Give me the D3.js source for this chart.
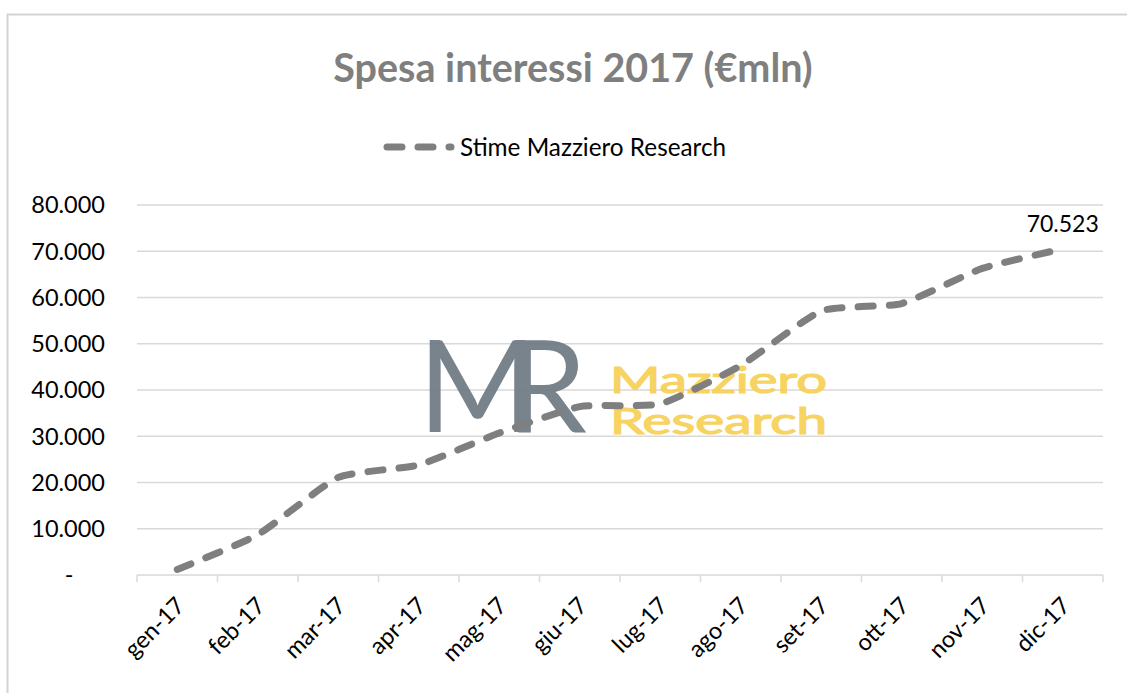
<!DOCTYPE html>
<html lang="it">
<head>
    <meta charset="utf-8">
    <title>Spesa interessi 2017</title>
    <script src="https://d3js.org/d3.v7.min.js"></script>
    <style>
        html, body {
            margin: 0;
            padding: 0;
            background: #fff;
        }
        svg text {
            font-family: Lato, "Open Sans", sans-serif;
        }
    </style>
</head>
<body>
    <div id="chart"></div>

    <script>
        // months on the x axis
        var months = ["gen-17", "feb-17", "mar-17", "apr-17", "mag-17", "giu-17",
                      "lug-17", "ago-17", "set-17", "ott-17", "nov-17", "dic-17"];

        // cumulative interest spending, € million
        var spesa = [1200, 8700, 21100, 23800, 30700, 36400,
                     37000, 45300, 57100, 58700, 66300, 70523];

        var yTicks = [0, 10000, 20000, 30000, 40000, 50000, 60000, 70000, 80000];

        var seriesName = "Stime Mazziero Research";
        var chartTitle = "Spesa interessi 2017 (€mln)";

        var width = 1127, height = 693;

        var svg = d3.select("#chart").append("svg")
            .attr("width", width)
            .attr("height", height);

        // outer chart border (only top and left are inside the picture)
        svg.append("rect")
            .attr("x", 7.5)
            .attr("y", 14.5)
            .attr("width", 1300)
            .attr("height", 900)
            .attr("fill", "#fff")
            .attr("stroke", "#d4d4d4")
            .attr("stroke-width", 2);

        var x = d3.scaleBand()
            .domain(months)
            .range([137, 1103]);

        var y = d3.scaleLinear()
            .domain([0, 80000])
            .range([575, 205]);

        // italian number format, 0 shown as a dash like excel
        var it = d3.formatLocale({ decimal: ",", thousands: ".", grouping: [3], currency: ["€", ""] });
        var fmt = it.format(",.0f");

        // gridlines
        svg.append("g")
            .selectAll("line")
            .data(yTicks.filter(function(d) { return d > 0; }))
            .enter().append("line")
            .attr("x1", 137)
            .attr("x2", 1103)
            .attr("y1", function(d) { return y(d); })
            .attr("y2", function(d) { return y(d); })
            .attr("stroke", "#d9d9d9")
            .attr("stroke-width", 1.5);

        // y labels
        svg.append("g")
            .selectAll("text")
            .data(yTicks)
            .enter().append("text")
            .attr("x", function(d) { return d == 0 ? 69 : 105; })
            .attr("y", function(d) { return y(d); })
            .attr("dy", "0.36em")
            .attr("text-anchor", function(d) { return d == 0 ? "middle" : "end"; })
            .attr("font-size", 23.5)
            .attr("fill", "#000")
            .text(function(d) { return d == 0 ? "-" : fmt(d); });

        // x axis with the ticks between the categories
        var xAxis = svg.append("g")
            .attr("transform", "translate(0," + y(0) + ")")
            .call(d3.axisBottom(x).tickSize(0).tickFormat(""));
        xAxis.select(".domain").remove();
        xAxis.append("line")
            .attr("x1", 137)
            .attr("x2", 1103)
            .attr("stroke", "#d9d9d9")
            .attr("stroke-width", 1.5);
        var bounds = months.map(function(m) { return x(m); }).concat([x.range()[1]]);
        xAxis.selectAll(".bnd")
            .data(bounds)
            .enter().append("line")
            .attr("class", "bnd")
            .attr("x1", function(d) { return d; })
            .attr("x2", function(d) { return d; })
            .attr("y1", 0)
            .attr("y2", 7)
            .attr("stroke", "#d9d9d9")
            .attr("stroke-width", 1.5);

        // rotated month labels
        svg.append("g")
            .selectAll("text")
            .data(months)
            .enter().append("text")
            .attr("transform", function(d) {
                return "translate(" + (x(d) + x.bandwidth() / 2 + 9) + "," + (y(0) + 32) + ") rotate(-45)";
            })
            .attr("text-anchor", "end")
            .attr("font-size", 23.5)
            .attr("fill", "#000")
            .text(function(d) { return d; });

        // watermark logo
        var logo = svg.append("g").attr("opacity", 0.92);
        logo.append("text")
            .attr("x", 418)
            .attr("y", 432)
            .attr("font-family", "Liberation Sans, Arial, sans-serif")
            .attr("font-size", 128)
            .attr("letter-spacing", -30)
            .attr("fill", "#6d7983")
            .text("MR");
        var brand = logo.append("text")
            .attr("font-family", "Liberation Sans, Arial, sans-serif")
            .attr("font-size", 37)
            .attr("fill", "#f7d054")
            .attr("stroke", "#f7d054")
            .attr("stroke-width", 1.2);
        brand.append("tspan")
            .attr("x", 610)
            .attr("y", 393)
            .attr("textLength", 217)
            .attr("lengthAdjust", "spacingAndGlyphs")
            .text("Mazziero");
        brand.append("tspan")
            .attr("x", 610)
            .attr("y", 434)
            .attr("textLength", 217)
            .attr("lengthAdjust", "spacingAndGlyphs")
            .text("Research");

        // the series, smoothed and dashed
        var line = d3.line()
            .x(function(d, i) { return x(months[i]) + x.bandwidth() / 2; })
            .y(function(d) { return y(d); })
            .curve(d3.curveCardinal.tension(0.5));

        svg.append("path")
            .datum(spesa)
            .attr("d", line)
            .attr("fill", "none")
            .attr("stroke", "#7f7f7f")
            .attr("stroke-width", 7)
            .attr("stroke-linecap", "round")
            .attr("stroke-dasharray", "15 16");

        // label on the last point
        var last = spesa.length - 1;
        svg.append("text")
            .attr("x", x(months[last]) + x.bandwidth() / 2)
            .attr("y", y(spesa[last]) - 17)
            .attr("text-anchor", "middle")
            .attr("font-size", 23)
            .attr("fill", "#000")
            .text(fmt(spesa[last]));

        // title
        svg.append("text")
            .attr("x", 573)
            .attr("y", 82)
            .attr("text-anchor", "middle")
            .attr("font-size", 39.5)
            .attr("font-weight", "bold")
            .attr("fill", "#7f7f7f")
            .text(chartTitle);

        // legend
        var legend = svg.append("g");
        legend.append("line")
            .attr("x1", 387)
            .attr("x2", 451)
            .attr("y1", 147)
            .attr("y2", 147)
            .attr("stroke", "#7f7f7f")
            .attr("stroke-width", 7)
            .attr("stroke-linecap", "round")
            .attr("stroke-dasharray", "15 16");
        legend.append("text")
            .attr("x", 460)
            .attr("y", 147)
            .attr("dy", "0.36em")
            .attr("font-size", 24.3)
            .attr("fill", "#000")
            .text(seriesName);
    </script>
</body>
</html>
